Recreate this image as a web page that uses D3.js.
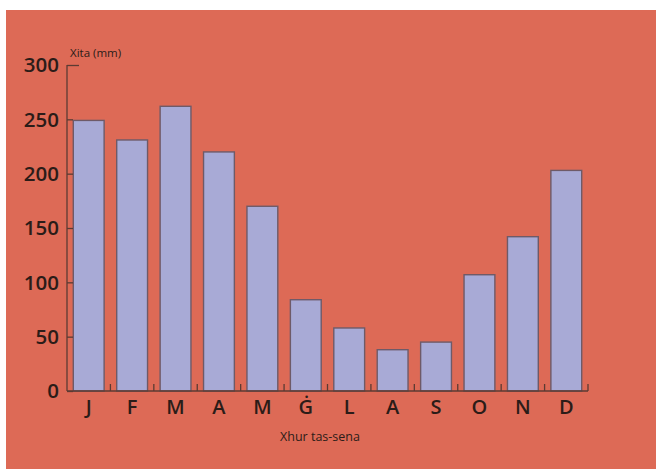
<!DOCTYPE html>
<html><head><meta charset="utf-8">
<script src="https://cdn.jsdelivr.net/npm/d3@7"></script>
<style>body{margin:0;background:#fff}svg{display:block}</style>
</head><body>
<script>
const months = ["J","F","M","A","M","Ġ","L","A","S","O","N","D"];
const rainfall = [249, 231, 262, 220, 170, 84, 58, 38, 45, 107, 142, 203];
const yTicks = [0, 50, 100, 150, 200, 250, 300];
const yTitle = "Xita (mm)";
const xTitle = "Xhur tas-sena";

(function () {
const W = 656, H = 469;
const svg = d3.select("body").append("svg").attr("width", W).attr("height", H);
svg.append("rect").attr("x", 6).attr("y", 10).attr("width", W - 6).attr("height", H - 10).attr("fill", "#dd6a56");

const mLeft = 67, mRight = 588, mTop = 65, mBottom = 391;
const x = d3.scaleBand().domain(d3.range(months.length)).range([mLeft, mRight]).paddingInner(0.29).paddingOuter(0.145);
const y = d3.scaleLinear().domain([0, 300]).range([mBottom, mTop]);
const axisCol = "#5b3b33";
const font = "'Open Sans', 'Liberation Sans', sans-serif";

// bars
svg.selectAll("rect.bar").data(rainfall).join("rect").attr("class", "bar")
  .attr("x", (d, i) => x(i)).attr("width", x.bandwidth())
  .attr("y", d => y(d)).attr("height", d => y(0) - y(d))
  .attr("fill", "#a8aad6").attr("stroke", "#6e5a68").attr("stroke-width", 1.4);

// y axis
const ya = svg.append("g").attr("transform", `translate(${mLeft},0)`)
  .call(d3.axisRight(y).tickValues(yTicks).tickSize(6).tickFormat(""));
ya.selectAll("path,line").attr("stroke", axisCol).attr("stroke-width", 1.3);
ya.select(".domain").attr("d", `M0,${y(300)}V${y(0)}`);
ya.selectAll(".tick").filter(d => d === 300).select("line").attr("x2", 12);

svg.selectAll("text.ylab").data(yTicks).join("text").attr("class", "ylab")
  .attr("x", 59).attr("y", d => y(d)).attr("dy", "0.36em").attr("text-anchor", "end")
  .attr("font-family", font).attr("font-size", 20.5).attr("font-weight", 600).attr("fill", "#2b1c18")
  .text(d => d);

// x axis
const xa = svg.append("g");
xa.append("line").attr("x1", mLeft).attr("x2", mRight).attr("y1", mBottom).attr("y2", mBottom)
  .attr("stroke", axisCol).attr("stroke-width", 1.3);
xa.selectAll("line.t").data(d3.range(1, months.length + 1)).join("line").attr("class", "t")
  .attr("x1", i => x(i - 1) + x.bandwidth() + (x.step() - x.bandwidth()) / 2)
  .attr("x2", i => x(i - 1) + x.bandwidth() + (x.step() - x.bandwidth()) / 2)
  .attr("y1", mBottom).attr("y2", mBottom - 7).attr("stroke", axisCol).attr("stroke-width", 1.3);

svg.selectAll("text.xlab").data(months).join("text").attr("class", "xlab")
  .attr("x", (d, i) => x(i) + x.bandwidth() / 2).attr("y", 414).attr("text-anchor", "middle")
  .attr("font-family", font).attr("font-size", 20).attr("font-weight", 600).attr("fill", "#2b1c18")
  .text(d => d);

svg.append("text").attr("x", 320).attr("y", 441).attr("text-anchor", "middle")
  .attr("font-family", font).attr("font-size", 12.5).attr("fill", "#2b1c18").text(xTitle);
svg.append("text").attr("x", 70).attr("y", 57)
  .attr("font-family", font).attr("font-size", 11.5).attr("fill", "#2b1c18").text(yTitle);
})();
</script>
</body></html>
